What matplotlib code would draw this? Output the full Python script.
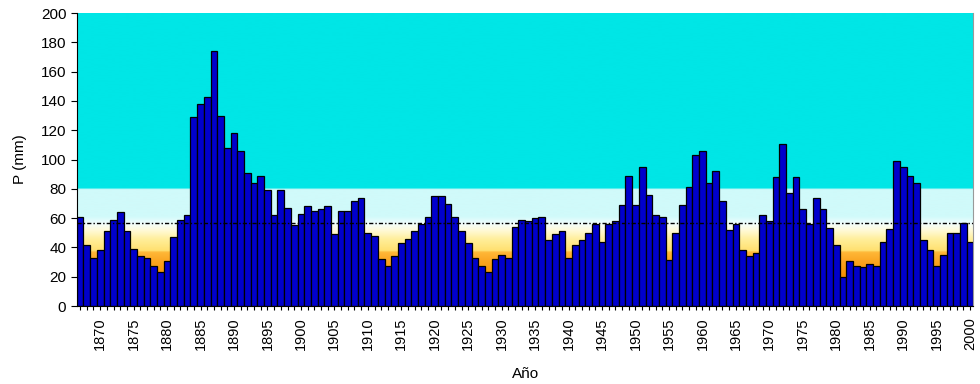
import numpy as np
import matplotlib
matplotlib.use("Agg")
import matplotlib.pyplot as plt
import matplotlib.ticker as tck
from matplotlib.colors import LinearSegmentedColormap

plt.rcParams.update({'font.family': ['Liberation Sans', 'DejaVu Sans'], 'font.size': 10,
                     "xtick.direction": "out", "ytick.direction": "out"})

# precipitacion anual (mm)
anios = np.arange(1867, 2001)
precip = [61, 42, 33, 38, 51, 59, 64, 51, 39, 34,
          33, 27.5, 23, 31, 47, 59, 62, 129, 138, 143,
          174, 130, 108, 118, 106, 91, 84, 89, 79, 62,
          79, 67, 55, 63, 68, 65, 66, 68, 49, 65,
          65, 72, 74, 50, 48, 32, 27.5, 34, 43, 46,
          51, 56, 61, 75, 75, 70, 61, 51, 43, 33,
          27.5, 23, 32, 35, 33, 54, 59, 58, 60, 61,
          45, 49, 51, 33, 42, 45, 50, 56, 43.5, 56,
          58, 69, 89, 69, 95, 76, 62, 61, 31.5, 50,
          69, 81, 103, 105.5, 84, 92, 72, 52, 56, 38,
          34, 36, 62, 58, 88, 110.5, 77, 88, 66, 56,
          74, 66, 53, 42, 19.5, 31, 27.5, 26.5, 28.5, 27.5,
          43.5, 52.5, 99, 95, 89, 84, 45, 38, 27.5, 35,
          50, 50, 56.5, 43.5]
media = 56.5

fig = plt.figure(figsize=(9.8, 3.84), dpi=100)
ax = fig.add_axes([0.0783, 0.203, 0.915, 0.763])

# fondo en franjas: sequia (naranja/amarillo), normal (celeste), humedo (cian)
niveles = [0, 20, 30, 36.5, 37.5, 45, 52, 56, 61, 79.8, 80.2, 200]
colores = ['#F08C00', '#F39200', '#FAA420', '#FFB838', '#FFE070', '#FFEE98',
           '#FFFBDC', '#F2FEFE', '#D0FAFA', '#D0FAFA', '#00E6E6', '#00E6E6']
cmap = LinearSegmentedColormap.from_list('fondo', list(zip(np.array(niveles) / 200.0, colores)))
grad = np.linspace(0, 200, 1000).reshape(-1, 1)
ax.imshow(grad, cmap=cmap, vmin=0, vmax=200, origin='lower', aspect='auto',
          extent=[anios[0] - 0.5, anios[-1] + 0.5, 0, 200], zorder=0)

ax.bar(anios, precip, width=1.0, color='#0000CC', edgecolor='black', linewidth=0.9, zorder=2)
ax.axhline(media, color='black', linestyle=(0, (3, 1.5, 1, 1.5)), linewidth=1, zorder=3)

ax.set_xlim(anios[0] - 0.5, anios[-1] + 0.5)
ax.set_ylim(0, 200)
ax.set_yticks(np.arange(0, 201, 20))
ax.set_xticks(np.arange(1870, 2001, 5))
ax.set_xticklabels([str(a) for a in range(1870, 2001, 5)], rotation=90, fontsize=10.5)
ax.xaxis.set_minor_locator(tck.MultipleLocator(1))
ax.tick_params(axis='x', which='both', length=3, width=0.8, pad=5)
ax.tick_params(axis='y', length=4, width=0.8, labelsize=11)

ax.spines['top'].set_visible(False)
ax.spines['right'].set_color('#999999')
ax.spines['left'].set_linewidth(0.8)
ax.spines['bottom'].set_linewidth(0.8)

ax.set_ylabel("P (mm)", fontsize=11, labelpad=10)
ax.set_xlabel("Año", fontsize=11, labelpad=12)

plt.savefig("out.png", dpi=100)
plt.close()
